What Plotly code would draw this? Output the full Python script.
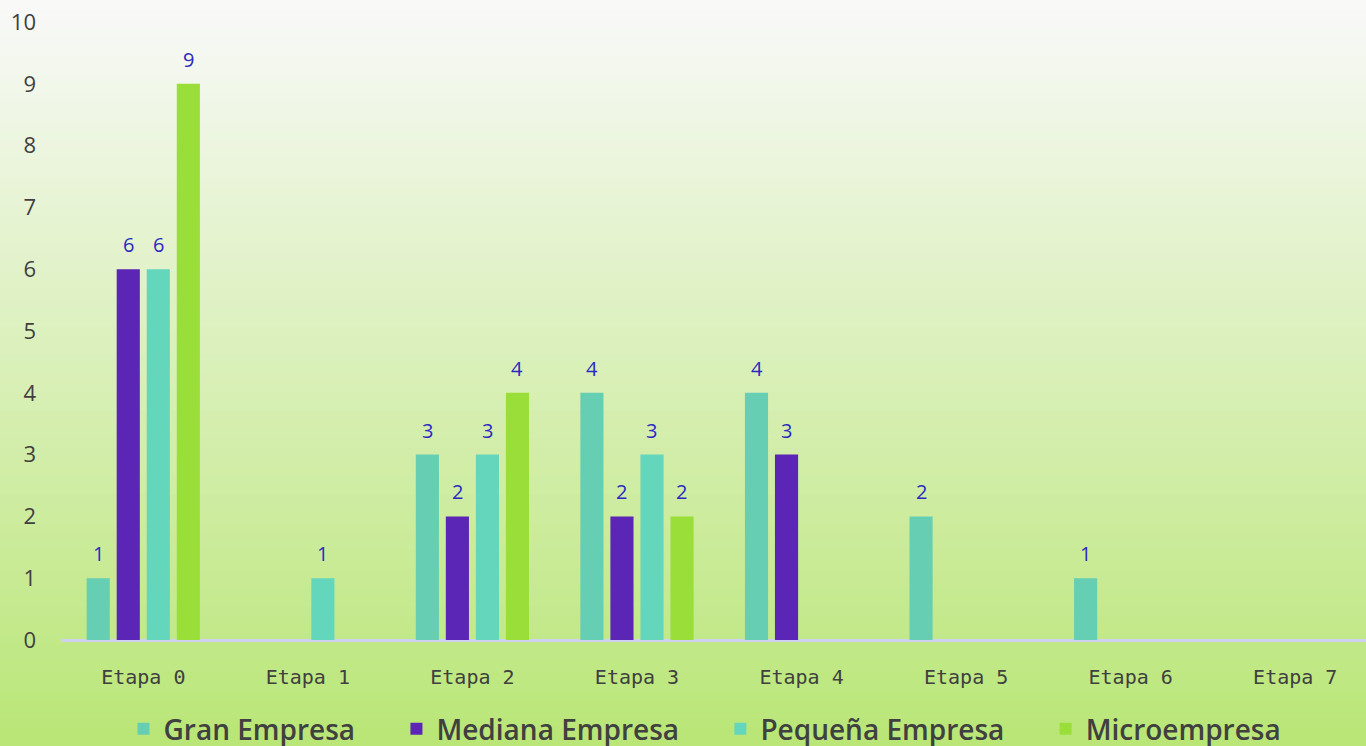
import plotly.graph_objects as go

categories = ["Etapa 0", "Etapa 1", "Etapa 2", "Etapa 3", "Etapa 4", "Etapa 5", "Etapa 6", "Etapa 7"]
gran = [1, None, 3, 4, 4, 2, 1, None]
mediana = [6, None, 2, 2, 3, None, None, None]
pequena = [6, 1, 3, 3, None, None, None, None]
micro = [9, None, 4, 2, None, None, None, None]

series = [
    ("Gran Empresa", gran, "#66ceb2"),
    ("Mediana Empresa", mediana, "#5b25b5"),
    ("Pequeña Empresa", pequena, "#64d6bb"),
    ("Microempresa", micro, "#9ade3a"),
]

W, H = 1366, 746
ML, MR, MT, MB = 61, 0, 22, 106
PAD = "\u00a0" * 5  # extra spacing between legend entries

fig = go.Figure()
for i, (name, vals, col) in enumerate(series):
    fig.add_trace(go.Bar(
        x=categories, y=vals, name=name + (PAD if i < len(series) - 1 else ""),
        marker=dict(color=col, line=dict(width=0)),
    ))

# data labels
slot = 30.0
for i, (name, vals, col) in enumerate(series):
    for c, v in zip(categories, vals):
        if v is None:
            continue
        fig.add_annotation(
            x=c, y=v, text=str(v), showarrow=False,
            xshift=(i - 1.5) * slot, yshift=9, yanchor="bottom",
            font=dict(family="Open Sans", size=20, color="#2a2ac0"),
        )

# gradient background bands
pw, ph = W - ML - MR, H - MT - MB
nb = 80
top = (249, 249, 249)
bot = (185, 230, 118)
for k in range(nb):
    py0 = k * H / nb
    py1 = (k + 1) * H / nb + 1
    t = (k + 0.5) / nb
    col = tuple(round(top[j] + (bot[j] - top[j]) * t) for j in range(3))
    fig.add_shape(
        type="rect", xref="paper", yref="paper", layer="below",
        x0=-ML / pw - 0.01, x1=(W - ML) / pw + 0.01,
        y0=(H - MB - py1) / ph, y1=(H - MB - py0) / ph,
        fillcolor="rgb(%d,%d,%d)" % col, line=dict(width=0),
    )

fig.update_layout(
    width=W, height=H,
    margin=dict(l=ML, r=MR, t=MT, b=MB, autoexpand=False),
    paper_bgcolor="#f5f8ee", plot_bgcolor="rgba(0,0,0,0)",
    barmode="group", bargap=0.27, bargroupgap=0.23,
    showlegend=True,
    legend=dict(
        orientation="h", x=(705 - ML) / pw, xanchor="center",
        y=(H - MB - 729) / ph, yanchor="middle",
        font=dict(family="Open Sans", size=28, color="#404040", weight=600),
        bgcolor="rgba(0,0,0,0)",
    ),
    xaxis=dict(
        range=[-0.5, 7.43], showgrid=False, zeroline=False,
        showline=False, ticks="", ticklabelstandoff=23,
        tickfont=dict(family="DejaVu Sans Mono", size=20, color="#404040"),
    ),
    yaxis=dict(
        range=[0, 10], dtick=1, showgrid=False, zeroline=True,
        zerolinecolor="#d0d0f0", zerolinewidth=2.5, showline=False,
        ticks="", ticklabelstandoff=24, ticklabeloverflow="allow",
        tickfont=dict(family="Open Sans", size=22, color="#404040", weight=500),
    ),
)

fig.write_html(
    "out.html",
    config={"displayModeBar": False},
    post_script="document.body.style.margin='0';document.body.style.overflow='hidden';",
)
